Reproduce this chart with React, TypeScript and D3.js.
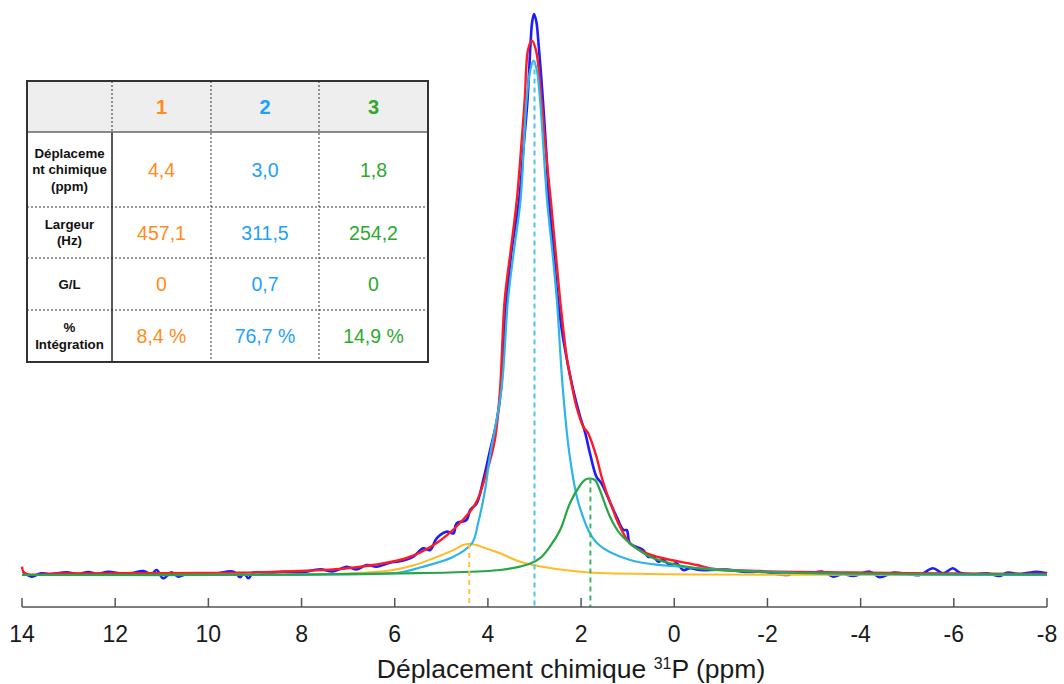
import React from 'react';
import * as d3 from 'd3';

type P = [number, number];

// x tick values (ppm)
const xTicks = [14, 12, 10, 8, 6, 4, 2, 0, -2, -4, -6, -8];

// measured spectrum (ppm, intensity)
const spectrum: P[] = [
  [13.985, 0.59], [13.79, -0.3], [13.61, 0.27], [13.4, 0.18], [13.04, 0.48], [12.8, 0.18], [12.58, 0.53], [12.37, 0.21],
  [12.15, 0.59], [11.9, 0.3], [11.64, 0.36], [11.4, 0.71], [11.22, 0.18], [11.11, 0.89], [10.97, -0.59], [10.79, 0.48],
  [10.65, -0.3], [10.44, 0.27], [10.18, 0.3], [9.86, 0.27], [9.46, 0.59], [9.32, -0.41], [9.24, 0.36], [9.14, -0.59],
  [9.04, 0.41], [8.72, 0.36], [8.39, 0.59], [8.03, 0.45], [7.6, 1.02], [7.33, 0.62], [7.03, 1.48], [6.83, 0.98],
  [6.6, 1.78], [6.39, 1.48], [6.1, 2.19], [5.96, 2.37], [5.78, 2.67], [5.6, 3.26], [5.39, 4.76], [5.24, 4.46],
  [5.1, 6.54], [4.89, 7.72], [4.74, 7.43], [4.67, 9.22], [4.46, 9.8], [4.38, 11.59], [4.24, 12.78], [4.1, 16.93],
  [3.96, 22.0], [3.81, 27.5], [3.72, 33.0], [3.6, 49.0], [3.49, 57.9], [3.33, 66.8], [3.24, 75.8], [3.15, 84.7],
  [3.08, 95.4], [3.05, 98.6], [3.01, 100], [2.96, 98.6], [2.92, 95.4], [2.82, 84.7], [2.75, 75.8], [2.69, 66.8],
  [2.59, 57.9], [2.52, 50.8], [2.38, 41.9], [2.17, 33.0], [2.02, 28.2], [1.91, 25.3], [1.81, 21.7], [1.67, 17.5],
  [1.56, 16.3], [1.37, 12.8], [1.24, 10.4], [1.09, 8.0], [1.02, 8.0], [0.95, 5.65], [0.67, 4.46], [0.56, 3.26],
  [0.45, 3.26], [0.34, 2.37], [0.24, 2.67], [0.09, 1.78], [-0.05, 2.09], [-0.19, 0.89], [-0.34, 1.19], [-0.55, 0.89],
  [-0.77, 0.89], [-1.09, 0.98], [-1.47, 0.59], [-1.95, 0.53], [-2.44, 0], [-2.55, 0.41], [-2.87, 0.27], [-3.19, 0.59],
  [-3.41, -0.3], [-3.62, 0.18], [-3.84, -0.18], [-4.2, 0.59], [-4.41, -0.41], [-4.69, 0.41], [-4.99, 0.18], [-5.27, 0],
  [-5.55, 1.19], [-5.77, 0.3], [-5.98, 1.19], [-6.13, 0.41], [-6.41, 0.12], [-6.71, 0.3], [-6.99, -0.18], [-7.14, 0.41],
  [-7.42, 0.18], [-7.78, 0.59], [-8.0, 0.3],
];

// total fit
const totalFit: P[] = [
  [14.0, 1.48], [13.94, 0.3], [13.18, 0.27], [12.33, 0.27], [11.25, 0.32], [10.18, 0.36], [9.32, 0.41], [7.89, 0.77],
  [7.17, 1.07], [6.47, 1.78], [5.74, 3.03], [5.1, 5.7], [4.6, 9.27], [4.26, 12.8], [4.03, 18.2], [3.85, 24.1],
  [3.74, 33.0], [3.64, 49.0], [3.51, 57.9], [3.38, 66.8], [3.29, 75.8], [3.21, 84.7], [3.14, 93.6], [3.06, 95.3],
  [2.97, 93.6], [2.85, 84.7], [2.76, 75.8], [2.65, 66.8], [2.55, 57.9], [2.45, 49.0], [2.38, 43.7], [2.31, 38.9],
  [2.2, 33.9], [2.1, 30.0], [1.95, 26.4], [1.85, 25.3], [1.74, 22.9], [1.67, 21.1], [1.56, 17.5], [1.45, 14.6],
  [1.34, 12.2], [1.2, 9.2], [0.95, 5.65], [0.59, 3.87], [0.24, 2.98], [-0.48, 1.78], [-0.77, 1.19], [-1.84, 0.71],
  [-3.77, 0.45], [-5.92, 0.27], [-8.0, 0.18],
];

// component 1 (4,4 ppm)
const comp1: P[] = [
  [14.0, 0], [9.32, 0.04], [7.17, 0.21], [6.1, 0.8], [5.61, 1.69], [5.18, 2.94], [4.71, 4.55], [4.55, 5.3],
  [4.4, 5.53], [4.25, 5.35], [4.06, 4.81], [3.74, 3.87], [3.31, 2.37], [3.03, 1.78], [2.45, 0.98], [1.81, 0.45],
  [0.52, 0.18], [-0.49, 0.09], [-8.0, 0],
];

// component 2 (3,0 ppm)
const comp2: P[] = [
  [14.0, 0], [8.03, 0.07], [5.89, 0.45], [5.46, 1.34], [4.75, 3.21], [4.34, 5.7], [4.21, 9.27], [4.06, 15.2],
  [3.96, 21.0], [3.71, 33.0], [3.57, 49.0], [3.44, 57.9], [3.3, 66.8], [3.17, 84.7], [3.09, 90.0], [3.02, 91.7],
  [2.95, 90.0], [2.88, 84.7], [2.73, 66.8], [2.62, 57.9], [2.52, 49.0], [2.39, 33.0], [2.24, 21.0], [2.03, 12.1],
  [1.66, 5.7], [0.95, 2.67], [-0.49, 1.25], [-2.7, 0.36], [-8.0, 0],
];

// component 3 (1,8 ppm)
const comp3: P[] = [
  [14.0, 0], [8.03, 0.07], [5.89, 0.3], [4.81, 0.45], [3.74, 0.89], [3.31, 1.5], [3.1, 2.0], [2.88, 3.0],
  [2.67, 5.04], [2.45, 8.02], [2.24, 12.8], [2.02, 16.0], [1.91, 17.0], [1.8, 17.2], [1.7, 16.9], [1.6, 15.2],
  [1.38, 10.4], [1.17, 7.43], [0.95, 5.65], [0.52, 3.26], [0.09, 2.09], [-0.48, 1.19], [-1.62, 0.62], [-2.7, 0.36],
  [-4.84, 0.18], [-8.0, 0.09],
];

// peak markers (position ppm, height)
const peakPos = [4.4, 3.0, 1.8];
const peakHeight = [5.53, 91.7, 17.2];

// table
const peakNames = ['1', '2', '3'];
const shiftVals = ['4,4', '3,0', '1,8'];
const widthVals = ['457,1', '311,5', '254,2'];
const glVals = ['0', '0,7', '0'];
const integVals = ['8,4 %', '76,7 %', '14,9 %'];
const rowLabels = [
  ['Déplaceme', 'nt chimique', '(ppm)'],
  ['Largeur', '(Hz)'],
  ['G/L'],
  ['%', 'Intégration'],
];

const peakTextColors = ['#ff8c1a', '#1ea1f7', '#2ea82e'];
const compColors = ['#ffbc26', '#2db5e8', '#26a646'];
const dashColors = ['#ffc53d', '#4cc4ee', '#3bb563'];

export default function App() {
  const x = d3.scaleLinear().domain([14, -8]).range([22, 1047]);
  const y = d3.scaleLinear().domain([0, 100]).range([575, 14]);
  const line = d3
    .line<P>()
    .x((d) => x(d[0]))
    .y((d) => y(d[1]))
    .curve(d3.curveCatmullRom.alpha(0.5));

  const axisY = 607;
  const font = 'Liberation Sans, Arial, Helvetica, sans-serif';

  // table geometry
  const tL = 27, tR = 428, tT = 81, tB = 362;
  const colX = [tL, 112, 211, 319, tR];
  const rowY = [tT, 132, 207, 258, 310, tB];
  const rowValues = [shiftVals, widthVals, glVals, integVals];

  return (
    <svg
      width={1064}
      height={684}
      style={{ position: 'fixed', left: 0, top: 0, background: '#fff' }}
      fontFamily={font}
    >
      <rect x={0} y={0} width={1064} height={684} fill="#fff" />

      {/* table */}
      <g>
        <rect x={tL} y={tT} width={tR - tL} height={rowY[1] - tT} fill="#eeeeee" />
        {rowY.slice(2, 5).map((ry, i) => (
          <line key={'r' + i} x1={tL} x2={tR} y1={ry} y2={ry} stroke="#333" strokeWidth={1} strokeDasharray="2,2" />
        ))}
        {colX.slice(2, 4).map((cx, i) => (
          <line key={'c' + i} x1={cx} x2={cx} y1={tT} y2={tB} stroke="#333" strokeWidth={1} strokeDasharray="2,2" />
        ))}
        <line x1={colX[1]} x2={colX[1]} y1={tT} y2={rowY[1]} stroke="#333" strokeWidth={1} strokeDasharray="2,2" />
        <line x1={colX[1]} x2={colX[1]} y1={rowY[1]} y2={tB} stroke="#222" strokeWidth={1.5} />
        <line x1={tL} x2={tR} y1={rowY[1]} y2={rowY[1]} stroke="#666" strokeWidth={1.5} />
        <rect x={tL} y={tT} width={tR - tL} height={tB - tT} fill="none" stroke="#333" strokeWidth={2} />

        {peakNames.map((n, i) => (
          <text
            key={'h' + i}
            x={(colX[i + 1] + colX[i + 2]) / 2}
            y={(rowY[0] + rowY[1]) / 2 + 7}
            textAnchor="middle"
            fontWeight="bold"
            fontSize={20}
            fill={peakTextColors[i]}
          >
            {n}
          </text>
        ))}

        {rowLabels.map((lines, r) => {
          const cy = (rowY[r + 1] + rowY[r + 2]) / 2;
          const lh = 16.5;
          const start = cy - ((lines.length - 1) * lh) / 2;
          return (
            <g key={'rl' + r}>
              {lines.map((t, k) => (
                <text
                  key={k}
                  x={(colX[0] + colX[1]) / 2}
                  y={start + k * lh + 4.5}
                  textAnchor="middle"
                  fontWeight="bold"
                  fontSize={13.3}
                  fill="#111"
                >
                  {t}
                </text>
              ))}
              {rowValues[r].map((v, i) => (
                <text
                  key={'v' + i}
                  x={(colX[i + 1] + colX[i + 2]) / 2}
                  y={cy + 7}
                  textAnchor="middle"
                  fontSize={19.5}
                  fill={peakTextColors[i]}
                >
                  {v}
                </text>
              ))}
            </g>
          );
        })}
      </g>

      {/* curves */}
      <path d={line(spectrum) || ''} fill="none" stroke="#1d1dff" strokeWidth={2.6} strokeLinejoin="round" />
      <path d={line(totalFit) || ''} fill="none" stroke="#ff1a24" strokeWidth={2.4} strokeLinejoin="round" />
      <path d={line(comp1) || ''} fill="none" stroke={compColors[0]} strokeWidth={2} />
      <path d={line(comp2) || ''} fill="none" stroke={compColors[1]} strokeWidth={2.2} />
      <path d={line(comp3) || ''} fill="none" stroke={compColors[2]} strokeWidth={2.2} />

      {/* peak position markers */}
      {peakPos.map((p, i) => (
        <line
          key={'pk' + i}
          x1={x(p)}
          x2={x(p)}
          y1={y(peakHeight[i])}
          y2={axisY}
          stroke={dashColors[i]}
          strokeWidth={2}
          strokeDasharray="5,4"
        />
      ))}

      {/* x axis */}
      <line x1={x(14)} x2={x(-8)} y1={axisY} y2={axisY} stroke="#555" strokeWidth={1.5} />
      {xTicks.map((t) => (
        <g key={'t' + t}>
          <line x1={x(t)} x2={x(t)} y1={axisY - 9} y2={axisY} stroke="#555" strokeWidth={1.5} />
          <text x={x(t)} y={642} textAnchor="middle" fontSize={23} fill="#1a1a1a">
            {String(t)}
          </text>
        </g>
      ))}
      <text x={571} y={678} textAnchor="middle" fontSize={26.5} fill="#1a1a1a">
        Déplacement chimique{' '}
        <tspan dy={-9} fontSize={16}>
          31
        </tspan>
        <tspan dy={9}>P (ppm)</tspan>
      </text>
    </svg>
  );
}
